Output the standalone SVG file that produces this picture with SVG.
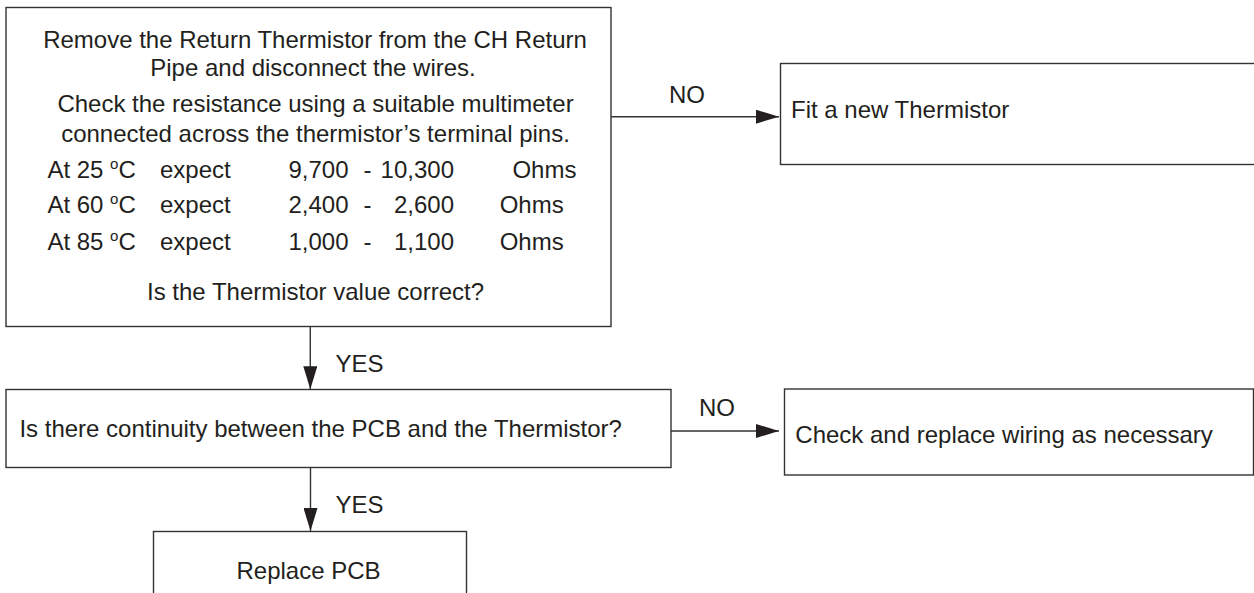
<svg xmlns="http://www.w3.org/2000/svg" width="1254" height="593" viewBox="0 0 1254 593">
<style>
.box{fill:#ffffff;stroke:#333333;stroke-width:1.4}
.t{font-family:"Liberation Sans",Arial,sans-serif;font-size:24px;fill:#231f20}
.c{text-anchor:middle}
.e{text-anchor:end}
.conn{stroke:#333333;stroke-width:1.4;fill:none;marker-end:url(#ah)}
</style>
<defs>
<marker id="ah" viewBox="0 0 23 14" refX="23" refY="7" markerWidth="23" markerHeight="14" markerUnits="userSpaceOnUse" orient="auto">
<path d="M0,0 L23,7 L0,14 Z" fill="#231f20"/>
</marker>
</defs>
<rect width="1254" height="593" fill="#ffffff"/>
<g id="node-check-thermistor">
<rect class="box" x="6" y="7.5" width="605" height="319"/>
<text class="t c" x="315" y="48.3">Remove the Return Thermistor from the CH Return</text>
<text class="t c" x="313" y="76">Pipe and disconnect the wires.</text>
<text class="t c" x="315.5" y="112.3">Check the resistance using a suitable multimeter</text>
<text class="t c" x="315.5" y="141.7">connected across the thermistor’s terminal pins.</text>
<text class="t" x="47.4" y="178.3">At 25 <tspan font-size="15" dy="-9">o</tspan><tspan dy="9">C</tspan></text>
<text class="t" x="160" y="178.3">expect</text>
<text class="t e" x="348.5" y="178.3">9,700</text>
<text class="t" x="363.5" y="178.3">-</text>
<text class="t e" x="454" y="178.3">10,300</text>
<text class="t" x="512.4" y="178.3">Ohms</text>
<text class="t" x="47.4" y="213.3">At 60 <tspan font-size="15" dy="-9">o</tspan><tspan dy="9">C</tspan></text>
<text class="t" x="160" y="213.3">expect</text>
<text class="t e" x="348.5" y="213.3">2,400</text>
<text class="t" x="363.5" y="213.3">-</text>
<text class="t e" x="454" y="213.3">2,600</text>
<text class="t" x="499.7" y="213.3">Ohms</text>
<text class="t" x="47.4" y="250">At 85 <tspan font-size="15" dy="-9">o</tspan><tspan dy="9">C</tspan></text>
<text class="t" x="160" y="250">expect</text>
<text class="t e" x="348.5" y="250">1,000</text>
<text class="t" x="363.5" y="250">-</text>
<text class="t e" x="454" y="250">1,100</text>
<text class="t" x="499.7" y="250">Ohms</text>
<text class="t c" x="315.5" y="300">Is the Thermistor value correct?</text>
</g>
<g id="node-fit-new">
<rect class="box" x="780.5" y="63.5" width="773" height="101"/>
<text class="t" x="791" y="118.3">Fit a new Thermistor</text>
</g>
<g id="node-continuity">
<rect class="box" x="6" y="389.5" width="665" height="78"/>
<text class="t" x="19.4" y="437.3">Is there continuity between the PCB and the Thermistor?</text>
</g>
<g id="node-wiring">
<rect class="box" x="784.5" y="389" width="469" height="86"/>
<text class="t" x="795.3" y="443.3">Check and replace wiring as necessary</text>
</g>
<g id="node-replace-pcb">
<rect class="box" x="153.5" y="531.5" width="313" height="90"/>
<text class="t c" x="308.5" y="579">Replace PCB</text>
</g>
<g id="connectors">
<line class="conn" x1="611" y1="116.7" x2="779" y2="116.7"/>
<text class="t c" x="687" y="103">NO</text>
<line class="conn" x1="310.3" y1="326.7" x2="310.3" y2="389.3"/>
<text class="t" x="335.5" y="371.7">YES</text>
<line class="conn" x1="671" y1="431" x2="779" y2="431"/>
<text class="t c" x="717" y="416">NO</text>
<line class="conn" x1="310.5" y1="467.5" x2="310.5" y2="531"/>
<text class="t" x="335.5" y="513">YES</text>
</g>
</svg>
